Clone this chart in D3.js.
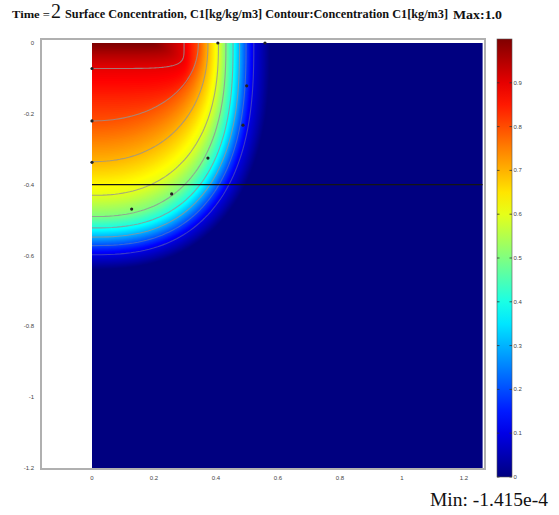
<!DOCTYPE html>
<html lang="en">
<head>
<meta charset="utf-8">
<title>Surface Concentration C1</title>
<script src="https://cdn.jsdelivr.net/npm/d3@7"></script>
<style>
  body { margin: 0; background: #fff; }
  svg { display: block; }
  .tick-label { font-family: "Liberation Sans", Arial, sans-serif; font-size: 6px; fill: #444; }
  .serif { font-family: "Liberation Serif", "Times New Roman", serif; fill: #111; }
</style>
</head>
<body>
<script>
// contour levels of C1 and where each one meets the top surface / left edge
var levels = [1.0, 0.95, 0.9, 0.8, 0.7, 0.6, 0.5, 0.4, 0.3, 0.2, 0.1, 0.0];
var topX   = [0.20, 0.25, 0.297, 0.343, 0.374, 0.408, 0.432, 0.455, 0.476, 0.497, 0.522, 0.575];
var leftY  = [0.005, 0.035, 0.072, 0.22, 0.335, 0.43, 0.49, 0.522, 0.548, 0.572, 0.598, 0.64];
var shape  = [6, 6, 5.5, 2.1, 2.2, 2.4, 2.5, 2.6, 2.6, 2.6, 2.6, 2.5];

// contour lines drawn, and the little label dots on them
var lineLevels = [0.9, 0.8, 0.7, 0.6, 0.5, 0.4, 0.3, 0.2, 0.1];
var markers = [[0, -0.072], [0, -0.22], [0, -0.337], [0.406, 0], [0.558, 0],
               [0.499, -0.121], [0.487, -0.232], [0.374, -0.325], [0.257, -0.426], [0.128, -0.469]];
var sectionY = -0.4;

var xTicks = [0, 0.2, 0.4, 0.6, 0.8, 1, 1.2];
var yTicks = [0, -0.2, -0.4, -0.6, -0.8, -1, -1.2];
var cbTicks = [0.9, 0.8, 0.7, 0.6, 0.5, 0.4, 0.3, 0.2, 0.1, 0];

var w = 559, h = 515;

var svg = d3.select("body").append("svg")
  .attr("width", w)
  .attr("height", h);

var x = d3.scaleLinear().domain([0, 1.26]).range([92, 482.6]);
var y = d3.scaleLinear().domain([0, -1.2]).range([43, 468]);

// jet colormap
var jet = d3.scaleLinear()
  .domain([0, 0.125, 0.375, 0.625, 0.875, 1])
  .range(["#000080", "#0000ff", "#00ffff", "#ffff00", "#ff0000", "#800000"]);

var axScale = d3.scaleLinear().domain(levels).range(topX);
var ayScale = d3.scaleLinear().domain(levels).range(leftY);
var pScale = d3.scaleLinear().domain(levels).range(shape);

// axes frame
svg.append("rect")
  .attr("x", 41).attr("y", 39)
  .attr("width", 444).attr("height", 430)
  .attr("fill", "#fff")
  .attr("stroke", "#b0b0b0")
  .attr("stroke-width", 2);

var plot = svg.append("g");

plot.append("rect")
  .attr("x", x(0)).attr("y", y(0))
  .attr("width", x(1.26) - x(0))
  .attr("height", y(-1.2) - y(0))
  .attr("fill", jet(0));

var line = d3.line()
  .x(function(d) { return x(d[0]); })
  .y(function(d) { return y(d[1]); });

function arc(lv) {
  var ax = axScale(lv), ay = ayScale(lv), p = pScale(lv);
  return d3.range(0, 61).map(function(i) {
    var t = i / 60 * Math.PI / 2;
    return [ax * Math.pow(Math.cos(t), 2 / p), -ay * Math.pow(Math.sin(t), 2 / p)];
  });
}

// smooth fill: many thin bands, outer to inner
var fine = d3.range(0, 1.0001, 0.004);
plot.selectAll("path.band")
  .data(fine)
  .enter()
  .append("path")
  .attr("class", "band")
  .attr("d", function(d) { return line([[0, 0]].concat(arc(d))) + "Z"; })
  .attr("fill", function(d) { return jet(d); });

// contour lines
plot.selectAll("path.contour")
  .data(lineLevels)
  .enter()
  .append("path")
  .attr("class", "contour")
  .attr("d", function(d) { return line(arc(d)); })
  .attr("fill", "none")
  .attr("stroke", "#939393")
  .attr("stroke-opacity", function(d) { return d < 0.25 ? 0.4 : 0.8; })
  .attr("stroke-width", 1.1);

// section line
plot.append("line")
  .attr("x1", x(0)).attr("x2", x(1.26))
  .attr("y1", y(sectionY)).attr("y2", y(sectionY))
  .attr("stroke", "#151515")
  .attr("stroke-width", 1.3);

plot.selectAll("circle")
  .data(markers)
  .enter()
  .append("circle")
  .attr("cx", function(d) { return x(d[0]); })
  .attr("cy", function(d) { return y(d[1]); })
  .attr("r", 1.6)
  .attr("fill", "#222");

// tick labels
svg.selectAll("text.xt")
  .data(xTicks)
  .enter()
  .append("text")
  .attr("class", "tick-label xt")
  .attr("x", function(d) { return x(d); })
  .attr("y", 480)
  .attr("text-anchor", "middle")
  .text(function(d) { return d; });

svg.selectAll("text.yt")
  .data(yTicks)
  .enter()
  .append("text")
  .attr("class", "tick-label yt")
  .attr("x", 34)
  .attr("y", function(d) { return y(d) + 2; })
  .attr("text-anchor", "end")
  .text(function(d) { return d; });

// colorbar
var cb = d3.scaleLinear().domain([0, 1]).range([477, 39]);
var grad = svg.append("defs").append("linearGradient")
  .attr("id", "jetgrad")
  .attr("x1", 0).attr("y1", 1).attr("x2", 0).attr("y2", 0);
grad.selectAll("stop")
  .data(d3.range(0, 1.0001, 0.05))
  .enter()
  .append("stop")
  .attr("offset", function(d) { return d; })
  .attr("stop-color", function(d) { return jet(d); });

svg.append("rect")
  .attr("x", 497).attr("y", cb(1))
  .attr("width", 15).attr("height", cb(0) - cb(1))
  .attr("fill", "url(#jetgrad)")
  .attr("stroke", "#555")
  .attr("stroke-width", 0.6);

var cbt = svg.selectAll("g.cbt")
  .data(cbTicks)
  .enter()
  .append("g")
  .attr("class", "cbt")
  .attr("transform", function(d) { return "translate(0," + cb(d) + ")"; });
cbt.append("line").attr("x1", 497).attr("x2", 499.5).attr("stroke", "#333").attr("stroke-width", 0.8);
cbt.append("line").attr("x1", 509.5).attr("x2", 512).attr("stroke", "#333").attr("stroke-width", 0.8);
cbt.append("text")
  .attr("class", "tick-label")
  .attr("x", 513.5)
  .attr("y", 2)
  .text(function(d) { return d; });

// title
svg.append("text").attr("class", "serif")
  .attr("x", 12).attr("y", 18)
  .attr("font-size", 11).attr("font-weight", "bold")
  .attr("textLength", 38).attr("lengthAdjust", "spacingAndGlyphs")
  .text("Time =");
svg.append("text").attr("class", "serif")
  .attr("x", 51).attr("y", 18)
  .attr("font-size", 20)
  .text("2");
svg.append("text").attr("class", "serif")
  .attr("x", 65).attr("y", 18)
  .attr("font-size", 11.5).attr("font-weight", "bold")
  .attr("textLength", 383).attr("lengthAdjust", "spacingAndGlyphs")
  .text("Surface Concentration, C1[kg/kg/m3] Contour:Concentration C1[kg/m3]");
svg.append("text").attr("class", "serif")
  .attr("x", 453).attr("y", 18.5)
  .attr("font-size", 12.5).attr("font-weight", "bold")
  .attr("textLength", 49).attr("lengthAdjust", "spacingAndGlyphs")
  .text("Max:1.0");

svg.append("text").attr("class", "serif")
  .attr("x", 430).attr("y", 506)
  .attr("font-size", 19)
  .attr("textLength", 118).attr("lengthAdjust", "spacingAndGlyphs")
  .text("Min: -1.415e-4");
</script>
</body>
</html>
